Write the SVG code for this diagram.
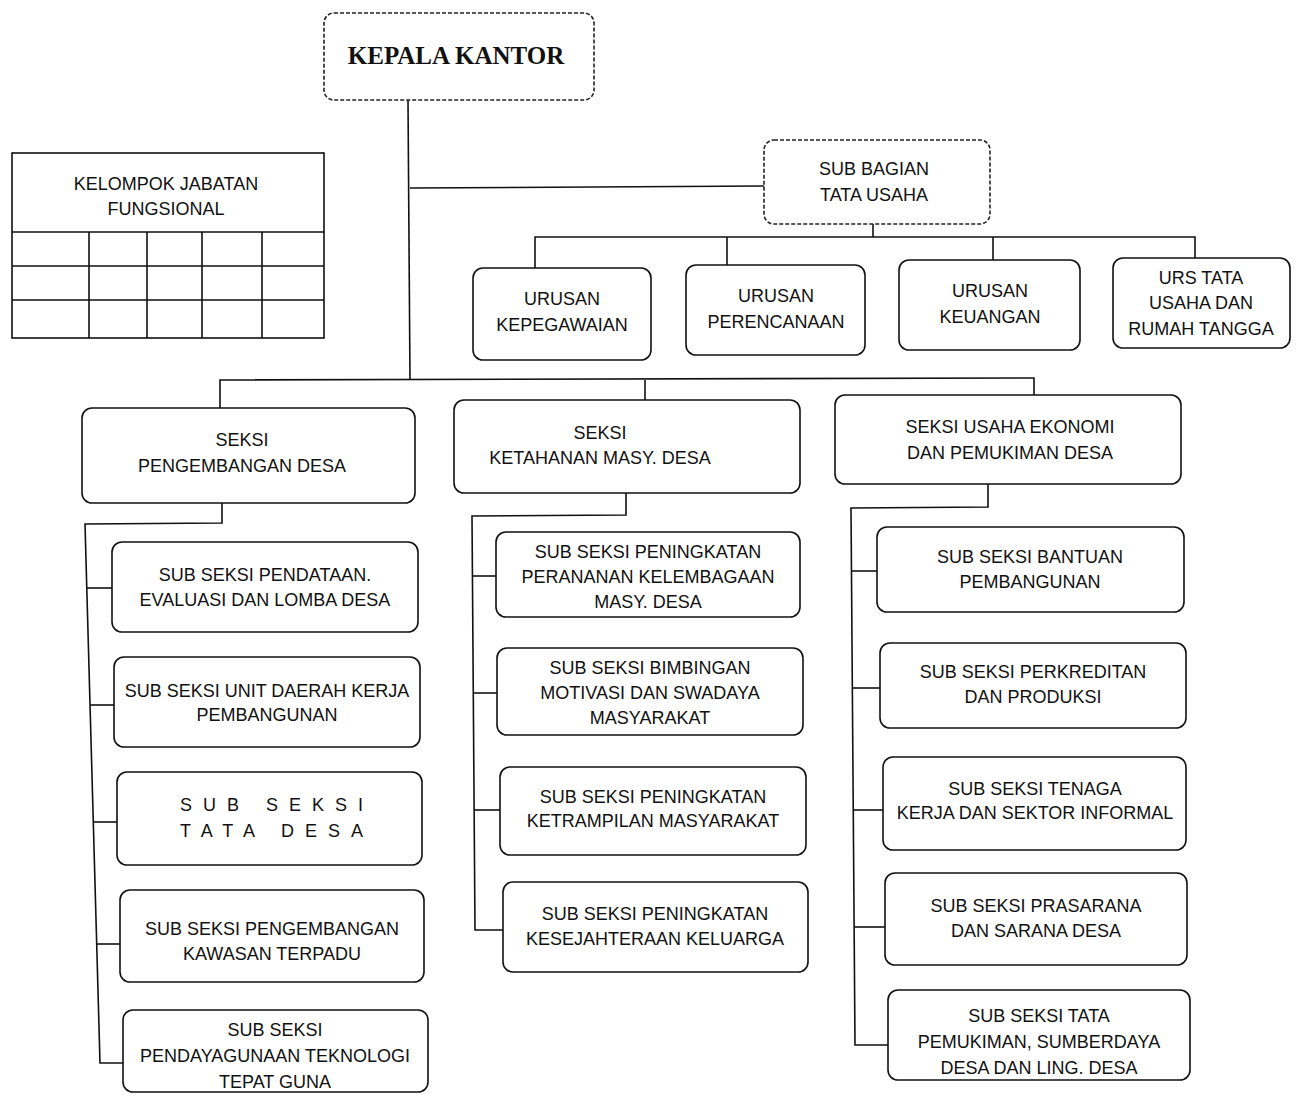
<svg xmlns="http://www.w3.org/2000/svg" width="1298" height="1098" viewBox="0 0 1298 1098">
<style>
.box{fill:#fff;stroke:#111;stroke-width:1.6}
.dot{fill:#fff;stroke:#222;stroke-width:1.6;stroke-dasharray:4 2}
.ln{fill:none;stroke:#111;stroke-width:1.6}
text{font-family:"Liberation Sans",Arial,sans-serif;font-size:18px;fill:#111;text-anchor:middle}
.head{font-family:"Liberation Serif","Times New Roman",serif;font-size:25px;font-weight:bold}
.sp{letter-spacing:11px}
</style>
<rect width="1298" height="1098" fill="#fff"/>
<g id="connectors">
<polyline class="ln" points="408,100 410,380"/>
<polyline class="ln" points="410,188 764,186"/>
<polyline class="ln" points="873,224 873,237"/>
<polyline class="ln" points="535,268 535,237 1195,237 1195,258"/>
<polyline class="ln" points="727,237 727,265"/>
<polyline class="ln" points="993,237 993,260"/>
<polyline class="ln" points="220,408 220,380 1034,378 1034,395"/>
<polyline class="ln" points="645,380 645,400"/>
<polyline class="ln" points="222,503 222,523 85,524 100,1063 123,1063"/>
<polyline class="ln" points="87,588 112,588"/>
<polyline class="ln" points="90,705 114,705"/>
<polyline class="ln" points="93,822 117,822"/>
<polyline class="ln" points="96,944 120,944"/>
<polyline class="ln" points="626,493 626,515 472,516 475,930 503,930"/>
<polyline class="ln" points="473,576 496,576"/>
<polyline class="ln" points="474,693 497,693"/>
<polyline class="ln" points="474,810 500,810"/>
<polyline class="ln" points="988,484 988,507 851,508 855,1045 888,1045"/>
<polyline class="ln" points="852,571 877,571"/>
<polyline class="ln" points="853,688 880,688"/>
<polyline class="ln" points="853,810 883,810"/>
<polyline class="ln" points="854,927 885,927"/>
</g>
<g id="kepala-kantor">
<rect class="dot" x="324" y="13" width="270" height="87" rx="10"/>
<text class="head" x="456" y="64">KEPALA KANTOR</text>
</g>
<g id="kelompok-jabatan">
<rect class="box" x="12" y="153" width="312" height="185" fill="none"/>
<path class="ln" d="M12,232 H324 M12,266 H324 M12,300 H324 M89,232 V338 M147,232 V338 M202,232 V338 M262,232 V338"/>
<text x="166" y="190">KELOMPOK JABATAN</text>
<text x="166" y="215">FUNGSIONAL</text>
</g>
<g id="sub-bagian">
<rect class="dot" x="764" y="140" width="226" height="84" rx="10"/>
<text x="874" y="175">SUB BAGIAN</text>
<text x="874" y="201">TATA USAHA</text>
</g>
<g id="urusan-kepegawaian">
<rect class="box" x="473" y="268" width="178" height="92" rx="10"/>
<text x="562" y="305">URUSAN</text>
<text x="562" y="331">KEPEGAWAIAN</text>
</g>
<g id="urusan-perencanaan">
<rect class="box" x="686" y="265" width="179" height="90" rx="10"/>
<text x="776" y="302">URUSAN</text>
<text x="776" y="328">PERENCANAAN</text>
</g>
<g id="urusan-keuangan">
<rect class="box" x="899" y="260" width="181" height="90" rx="10"/>
<text x="990" y="297">URUSAN</text>
<text x="990" y="323">KEUANGAN</text>
</g>
<g id="urs-tata-usaha">
<rect class="box" x="1113" y="258" width="177" height="90" rx="10"/>
<text x="1201" y="284">URS TATA</text>
<text x="1201" y="309">USAHA DAN</text>
<text x="1201" y="335">RUMAH TANGGA</text>
</g>
<g id="seksi-pengembangan">
<rect class="box" x="82" y="408" width="333" height="95" rx="10"/>
<text x="242" y="446">SEKSI</text>
<text x="242" y="472">PENGEMBANGAN DESA</text>
</g>
<g id="seksi-ketahanan">
<rect class="box" x="454" y="400" width="346" height="93" rx="10"/>
<text x="600" y="439">SEKSI</text>
<text x="600" y="464">KETAHANAN MASY. DESA</text>
</g>
<g id="seksi-usaha-ekonomi">
<rect class="box" x="835" y="395" width="346" height="89" rx="10"/>
<text x="1010" y="433">SEKSI USAHA EKONOMI</text>
<text x="1010" y="459">DAN PEMUKIMAN DESA</text>
</g>
<g id="ss-pendataan">
<rect class="box" x="112" y="542" width="306" height="90" rx="10"/>
<text x="265" y="581">SUB SEKSI PENDATAAN.</text>
<text x="265" y="606">EVALUASI DAN LOMBA DESA</text>
</g>
<g id="ss-unit-daerah">
<rect class="box" x="114" y="657" width="306" height="90" rx="10"/>
<text x="267" y="697">SUB SEKSI UNIT DAERAH KERJA</text>
<text x="267" y="721">PEMBANGUNAN</text>
</g>
<g id="ss-tata-desa">
<rect class="box" x="117" y="772" width="305" height="93" rx="10"/>
<text class="sp" x="277" y="811">SUB  SEKSI</text>
<text class="sp" x="277" y="837">TATA  DESA</text>
</g>
<g id="ss-kawasan">
<rect class="box" x="120" y="890" width="304" height="92" rx="10"/>
<text x="272" y="935">SUB  SEKSI PENGEMBANGAN</text>
<text x="272" y="960">KAWASAN TERPADU</text>
</g>
<g id="ss-teknologi">
<rect class="box" x="123" y="1010" width="305" height="82" rx="10"/>
<text x="275" y="1036">SUB SEKSI</text>
<text x="275" y="1062">PENDAYAGUNAAN TEKNOLOGI</text>
<text x="275" y="1088">TEPAT GUNA</text>
</g>
<g id="ss-peranan">
<rect class="box" x="496" y="532" width="304" height="85" rx="10"/>
<text x="648" y="558">SUB SEKSI PENINGKATAN</text>
<text x="648" y="583">PERANANAN KELEMBAGAAN</text>
<text x="648" y="608">MASY. DESA</text>
</g>
<g id="ss-bimbingan">
<rect class="box" x="497" y="648" width="306" height="87" rx="10"/>
<text x="650" y="674">SUB SEKSI BIMBINGAN</text>
<text x="650" y="699">MOTIVASI DAN SWADAYA</text>
<text x="650" y="724">MASYARAKAT</text>
</g>
<g id="ss-ketrampilan">
<rect class="box" x="500" y="767" width="306" height="88" rx="10"/>
<text x="653" y="803">SUB SEKSI PENINGKATAN</text>
<text x="653" y="827">KETRAMPILAN MASYARAKAT</text>
</g>
<g id="ss-kesejahteraan">
<rect class="box" x="503" y="882" width="305" height="90" rx="10"/>
<text x="655" y="920">SUB SEKSI PENINGKATAN</text>
<text x="655" y="945">KESEJAHTERAAN  KELUARGA</text>
</g>
<g id="ss-bantuan">
<rect class="box" x="877" y="527" width="307" height="85" rx="10"/>
<text x="1030" y="563">SUB  SEKSI  BANTUAN</text>
<text x="1030" y="588">PEMBANGUNAN</text>
</g>
<g id="ss-perkreditan">
<rect class="box" x="880" y="643" width="306" height="85" rx="10"/>
<text x="1033" y="678">SUB  SEKSI PERKREDITAN</text>
<text x="1033" y="703">DAN  PRODUKSI</text>
</g>
<g id="ss-tenaga">
<rect class="box" x="883" y="757" width="303" height="93" rx="10"/>
<text x="1035" y="795">SUB SEKSI  TENAGA</text>
<text x="1035" y="819">KERJA DAN SEKTOR INFORMAL</text>
</g>
<g id="ss-prasarana">
<rect class="box" x="885" y="873" width="302" height="92" rx="10"/>
<text x="1036" y="912">SUB SEKSI PRASARANA</text>
<text x="1036" y="937">DAN SARANA DESA</text>
</g>
<g id="ss-tata-pemukiman">
<rect class="box" x="888" y="990" width="302" height="90" rx="10"/>
<text x="1039" y="1022">SUB SEKSI TATA</text>
<text x="1039" y="1048">PEMUKIMAN, SUMBERDAYA</text>
<text x="1039" y="1074">DESA DAN LING. DESA</text>
</g>
</svg>
